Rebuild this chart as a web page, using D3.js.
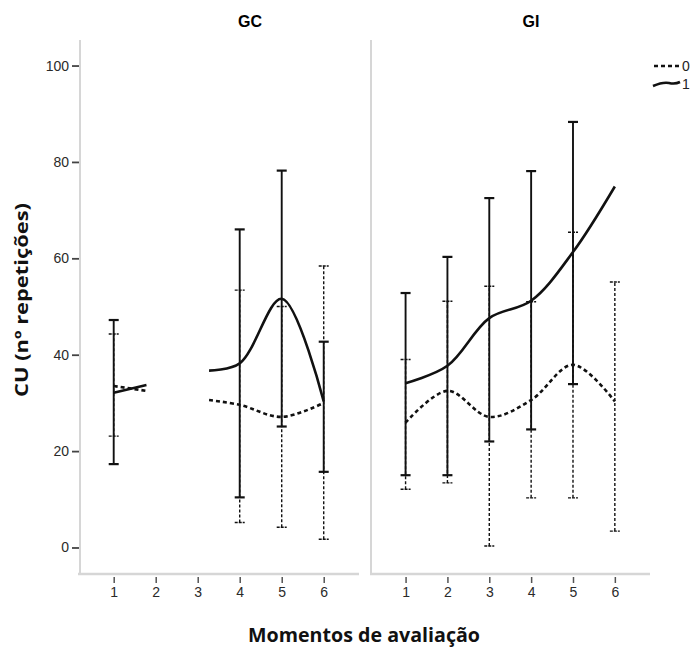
<!DOCTYPE html>
<html>
<head>
<meta charset="utf-8">
<script src="https://cdn.jsdelivr.net/npm/d3@7/dist/d3.min.js"></script>
<style>
  html, body { margin: 0; padding: 0; background: #fff; }
  svg { display: block; }
  .tick text { font-family: 'Liberation Sans', Arial, sans-serif; font-size: 14px; fill: #2a2a2a; }
</style>
</head>
<body>
<svg id="chart" width="696" height="648"></svg>
<script>
// ---------------- data ----------------
const groups = ["GC", "GI"];
const moments = [1, 2, 3, 4, 5, 6];
const yTicks = [0, 20, 40, 60, 80, 100];
const legendLabels = ["0", "1"];
const yTitle = "CU (nº repetições)";
const xTitle = "Momentos de avaliação";

// mean lines (x = moment, y = mean); segments split where data missing
const gcMean0 = [[[1, 33.5], [1.78, 32.5]], [[3.27, 30.6], [4, 29.6], [5, 27.1], [6, 30.0]]];
const gcMean1 = [[[1, 32.1], [1.78, 33.7]], [[3.27, 36.7], [4, 38.2], [5, 51.6], [6, 30.3]]];
const giMean0 = [[[1, 25.9], [2, 32.5], [3, 27.1], [4, 30.6], [5, 37.9], [6, 30.3]]];
const giMean1 = [[[1, 34.1], [2, 37.7], [3, 47.6], [4, 51.2], [5, 61.3], [6, 74.9]]];

// error bars: [moment, low, high]
const gcErr0 = [[1, 23.1, 44.3], [4, 5.2, 53.4], [5, 4.2, 50.0], [6, 1.7, 58.4]];
const gcErr1 = [[1, 17.3, 47.2], [4, 10.4, 66.0], [5, 25.1, 78.2], [6, 15.7, 42.7]];
const giErr0 = [[1, 12.1, 39.0], [2, 13.4, 51.1], [3, 0.3, 54.2], [4, 10.3, 51.0], [5, 10.3, 65.4], [6, 3.4, 55.1]];
const giErr1 = [[1, 15.0, 52.8], [2, 15.0, 60.3], [3, 22.0, 72.5], [4, 24.5, 78.1], [5, 33.9, 88.3]];

const panelData = [
  { name: groups[0], mean0: gcMean0, mean1: gcMean1, err0: gcErr0, err1: gcErr1 },
  { name: groups[1], mean0: giMean0, mean1: giMean1, err0: giErr0, err1: giErr1 }
];

// ---------------- layout ----------------
const svg = d3.select("#chart");
const plotTop = 40, plotBottom = 574;
const panels = [
  { x0: 78, x1: 359, axisX: 80, titleX: 250 },
  { x0: 370, x1: 650, axisX: 371, titleX: 531 }
];
const y = d3.scaleLinear().domain([-5.5, 105.3]).range([plotBottom, plotTop]);
const gridGray = "#d6d6d6";
const ink = "#111";
const tickFont = "'Liberation Sans', Arial, sans-serif";

panels.forEach((p, i) => {
  const d = panelData[i];
  const x = d3.scaleLinear().domain([0.15, 6.84]).range([p.x0, p.x1]);
  const g = svg.append("g");

  // frame lines
  g.append("line").attr("x1", p.axisX).attr("x2", p.axisX).attr("y1", plotTop).attr("y2", plotBottom)
    .attr("stroke", gridGray).attr("stroke-width", 2);
  g.append("line").attr("x1", p.x0).attr("x2", p.x1).attr("y1", plotBottom).attr("y2", plotBottom)
    .attr("stroke", gridGray).attr("stroke-width", 2.5);

  // x axis ticks
  const xa = g.append("g").attr("transform", `translate(0,${plotBottom + 3})`)
    .call(d3.axisBottom(x).tickValues(moments).tickFormat(d3.format("d")).tickSize(6).tickPadding(4));
  xa.attr("font-size", 14).attr("font-family", tickFont);
  xa.select(".domain").remove();
  xa.selectAll(".tick line").attr("stroke", "#555").attr("stroke-width", 1.5);

  // y axis for left panel only
  if (i === 0) {
    const ya = g.append("g").attr("transform", `translate(${p.axisX - 1},0)`)
      .call(d3.axisLeft(y).tickValues(yTicks).tickSize(7).tickPadding(3));
    ya.attr("font-size", 14).attr("font-family", tickFont);
    ya.select(".domain").remove();
    ya.selectAll(".tick line").attr("stroke", "#444").attr("stroke-width", 1.8);
  }

  // panel title
  svg.append("text").attr("x", p.titleX).attr("y", 27).attr("text-anchor", "middle")
    .attr("font-family", tickFont).attr("font-weight", "bold").attr("font-size", "16px")
    .attr("fill", "#000").text(d.name);

  const capW = 5;
  function drawErr(data, dashed) {
    const eg = g.append("g");
    data.forEach(e => {
      const cx = x(e[0]);
      eg.append("line").attr("x1", cx).attr("x2", cx).attr("y1", y(e[1])).attr("y2", y(e[2]))
        .attr("stroke", ink).attr("stroke-width", dashed ? 1.4 : 1.9)
        .attr("stroke-dasharray", dashed ? "3,2" : null);
      [e[1], e[2]].forEach(v => {
        eg.append("line").attr("x1", cx - capW).attr("x2", cx + capW).attr("y1", y(v)).attr("y2", y(v))
          .attr("stroke", ink).attr("stroke-width", dashed ? 1.4 : 2.2)
          .attr("stroke-dasharray", dashed ? "3,1" : null);
      });
    });
  }
  drawErr(d.err0, true);
  drawErr(d.err1, false);

  const line = d3.line().x(v => x(v[0])).y(v => y(v[1])).curve(d3.curveCatmullRom.alpha(0.5));
  d.mean0.forEach(seg => {
    g.append("path").attr("d", line(seg)).attr("fill", "none").attr("stroke", ink)
      .attr("stroke-width", 2.6).attr("stroke-dasharray", "4,3");
  });
  d.mean1.forEach(seg => {
    g.append("path").attr("d", line(seg)).attr("fill", "none").attr("stroke", ink)
      .attr("stroke-width", 2.6);
  });
});

// legend
const lg = svg.append("g");
lg.append("line").attr("x1", 654).attr("x2", 679).attr("y1", 66).attr("y2", 66)
  .attr("stroke", ink).attr("stroke-width", 2.6).attr("stroke-dasharray", "4,3");
lg.append("path").attr("d", "M653,86 C660,83 664,82 669,83 C673,84 676,84 680,82")
  .attr("fill", "none").attr("stroke", ink).attr("stroke-width", 2.6);
legendLabels.forEach((t, i) => {
  lg.append("text").attr("x", 682).attr("y", 71 + i * 18).text(t)
    .attr("font-family", tickFont).attr("font-size", 14).attr("fill", "#222");
});

// axis titles
svg.append("text").attr("transform", "translate(28,300) rotate(-90)").attr("text-anchor", "middle")
  .attr("font-family", "'Open Sans', sans-serif").attr("font-weight", "bold").attr("font-size", "18px")
  .attr("textLength", 194).attr("lengthAdjust", "spacingAndGlyphs")
  .attr("fill", "#111").text(yTitle);
svg.append("text").attr("x", 364).attr("y", 642).attr("text-anchor", "middle")
  .attr("font-family", "'Open Sans', sans-serif").attr("font-weight", "bold").attr("font-size", "19px")
  .attr("textLength", 232).attr("lengthAdjust", "spacingAndGlyphs")
  .attr("fill", "#111").text(xTitle);
</script>
</body>
</html>
